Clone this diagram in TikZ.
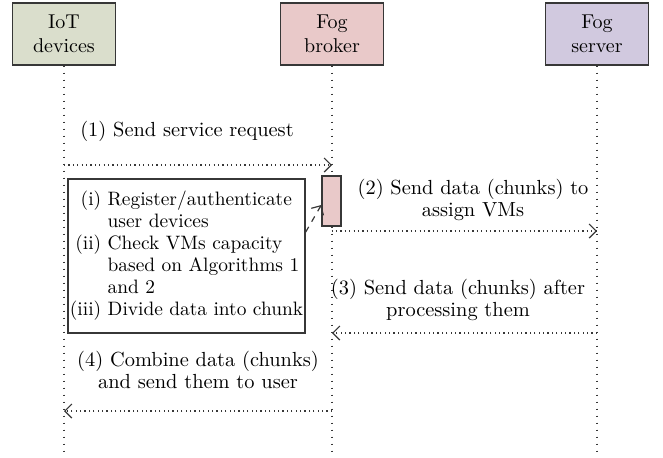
\documentclass[tikz,border=0pt]{standalone}
\usetikzlibrary{arrows.meta,positioning}
\definecolor{iotfill}{RGB}{218,222,204}
\definecolor{brokerfill}{RGB}{233,201,201}
\definecolor{serverfill}{RGB}{209,201,223}
\definecolor{linegray}{RGB}{55,55,55}
\tikzset{every actor/.style={draw=linegray, line width=0.7pt, minimum width=51.5pt,
                             minimum height=31pt, align=center, inner sep=0pt},
        life line/.style={draw=linegray, line width=0.6pt, dash pattern=on 0.6pt off 2.9pt},
        msg style/.style={draw=linegray, line width=0.6pt, dash pattern=on 0.6pt off 1.6pt,
                          -{Straight Barb[length=3.5pt,width=7pt,line width=0.6pt]}},
        msg label/.style={align=center, font=\fontsize{10.2}{11}\selectfont},
        }

\begin{document}
\begin{tikzpicture}[x=0.5pt,y=-0.5pt]
    \useasboundingbox (0,0) rectangle (663,457);

    \node[every actor, fill=iotfill] (iot) at (64,34) {IoT\\devices};
    \node[every actor, fill=brokerfill] (broker) at (332,34) {Fog\\broker};
    \node[every actor, fill=serverfill] (server) at (597,34) {Fog\\server};

    \coordinate (iotend) at (iot |- 0,457);
    \coordinate (brokerend) at (broker |- 0,457);
    \coordinate (serverend) at (server |- 0,457);
    \draw [life line] (iot) -- (iotend);
    \draw [life line] (broker) -- (brokerend);
    \draw [life line] (server) -- (serverend);

    % activation on the broker
    \node[draw=linegray, line width=0.7pt, fill=brokerfill, minimum width=9.5pt,
          minimum height=25pt, inner sep=0pt] (act) at (331.5,201) {};

    \node[draw=linegray, line width=0.7pt, fill=white, minimum width=118.5pt,
          minimum height=77pt, inner xsep=0.5pt, inner ysep=1pt,
          font=\fontsize{9.7}{11.2}\selectfont] (tasks) at (186.5,256)
        {\renewcommand{\arraystretch}{0.98}%
         \begin{tabular}{@{}r@{~}l@{}}
         (i) & Register/authenticate\\
             & user devices\\
         (ii) & Check VMs capacity\\
             & based on Algorithms 1\\
             & and 2\\
         (iii) & Divide data into chunk
         \end{tabular}};

    \node[msg label] (lab1) at (187,131) {(1) Send service request};
    \draw [msg style] (iot |- 0,165) -- (broker |- 0,165);
    \draw [dashed, draw=linegray, line width=0.6pt, -{Straight Barb[length=3.5pt,width=7pt]}]
        (tasks.east |- 0,232) -- (act.west |- 0,205);
    \draw [msg style] (act.south |- 0,231) -- (server |- 0,231);
    \node[msg label] (lab2) at (473,200) {(2) Send data (chunks) to\\assign VMs};
    \draw [msg style] (server |- 0,333) -- (broker |- 0,333);
    \node[msg label] (lab3) at (458,300) {(3) Send data (chunks) after\\processing them};
    \draw [msg style] (broker |- 0,411) -- (iot |- 0,411);
    \node[msg label] (lab4) at (198,370) {(4) Combine data (chunks)\\and send them to user};

\end{tikzpicture}
\end{document}
